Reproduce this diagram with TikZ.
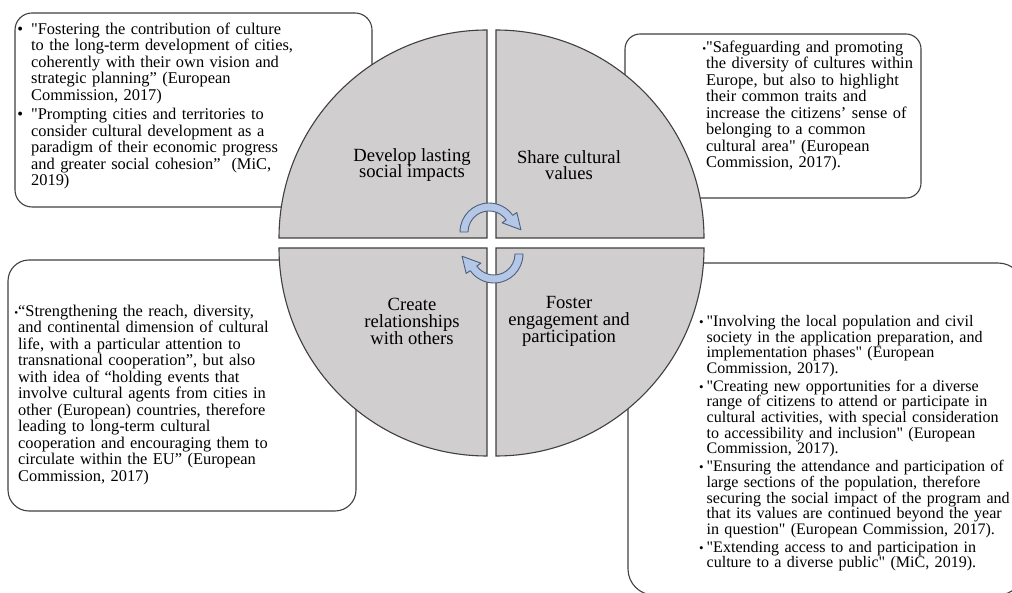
\documentclass[tikz,border=0pt]{standalone}
\usepackage{fontspec}
\setmainfont{Liberation Serif}[Ligatures=TeXOff]
\usepackage{tikz}

\definecolor{quadfill}{RGB}{208,206,206}
\definecolor{quadline}{RGB}{64,64,64}
\definecolor{arrowfill}{RGB}{180,199,231}
\definecolor{arrowline}{RGB}{78,95,125}

\newcommand{\notefont}{\fontsize{16.4pt}{16.5pt}\selectfont}
\newcommand{\densefont}{\fontsize{16.05pt}{15.6pt}\selectfont}
\newcommand{\quadfont}{\fontsize{18.6pt}{16.7pt}\selectfont\lineskiplimit=-20pt}
\newcommand{\bul}{\leavevmode\llap{\textbullet\hspace{8pt}}}
\newcommand{\smallbul}{\leavevmode\llap{\fontsize{13pt}{13pt}\selectfont\textbullet\hspace{3pt}}}
\newcommand{\tightbul}{\leavevmode\llap{\fontsize{11pt}{11pt}\selectfont\textbullet}}

\begin{document}
\begin{tikzpicture}[x=1pt,y=1pt,
    notebox/.style={draw=quadline,line width=1.1pt,fill=white,rounded corners=#1,inner sep=0pt},
    notebox/.default=16pt,
    notetext/.style={anchor=base west,inner sep=0pt,text width=420pt,align=left,font=\notefont},
    quadrant/.style={draw=quadline,line width=1.1pt,fill=quadfill},
    quadlabel/.style={inner sep=0pt,align=center,font=\quadfont},
    cyclearrow/.style={draw=arrowline,line width=0.9pt,fill=arrowfill,line join=round},
    circarrow/.pic={
        \filldraw[cyclearrow] (180:29pt) arc[start angle=180,end angle=35,radius=29pt]
            -- (35:34pt) -- (4:32pt) -- (35:16pt) -- (35:21pt)
            arc[start angle=35,end angle=180,radius=21pt] -- cycle;
    }]
    \useasboundingbox (0,0) rectangle (1012,592);
    \clip (0,0) rectangle (1012,592);

    % quote boxes, drawn first so the circle sits on top
    \node[notebox=17pt,minimum width=357,minimum height=194] (impactbox) at (193.5,482) {};
    \node[notebox=15pt,minimum width=296,minimum height=164] (valuesbox) at (773,476) {};
    \node[notebox=21pt,minimum width=348,minimum height=251] (relationbox) at (182,206.5) {};
    \node[notebox=26pt,minimum width=396,minimum height=332] (engagebox) at (826,163) {};

    \node[notetext] (impacttext) at ([xshift=16.5,yshift=-22]impactbox.north west)
        {\bul"Fostering the contribution of culture\\
         to the long-term development of cities,\\
         coherently with their own vision and\\
         strategic planning” (European\\
         Commission, 2017)\\[3pt]
         \bul"Prompting cities and territories to\\
         consider cultural development as a\\
         paradigm of their economic progress\\
         and greater social cohesion”\ \ (MiC,\\
         2019)};
    \node[notetext] (valuestext) at ([xshift=81.5,yshift=-19]valuesbox.north west)
        {\tightbul"Safeguarding and promoting\\
         the diversity of cultures within\\
         Europe, but also to highlight\\
         their common traits and\\
         increase the citizens’ sense of\\
         belonging to a common\\
         cultural area" (European\\
         Commission, 2017).};
    \node[notetext] (relationtext) at ([xshift=10.5,yshift=-57]relationbox.north west)
        {\tightbul“Strengthening the reach, diversity,\\
         and continental dimension of cultural\\
         life, with a particular attention to\\
         transnational cooperation”, but also\\
         with idea of “holding events that\\
         involve cultural agents from cities in\\
         other (European) countries, therefore\\
         leading to long-term cultural\\
         cooperation and encouraging them to\\
         circulate within the EU” (European\\
         Commission, 2017)};
    \node[notetext,font=\densefont] (engagetext) at ([xshift=79,yshift=-64]engagebox.north west)
        {\smallbul"Involving the local population and civil\\
         society in the application preparation, and\\
         implementation phases" (European\\
         Commission, 2017).\\[2.5pt]
         \smallbul"Creating new opportunities for a diverse\\
         range of citizens to attend or participate in\\
         cultural activities, with special consideration\\
         to accessibility and inclusion" (European\\
         Commission, 2017).\\[2.5pt]
         \smallbul"Ensuring the attendance and participation of\\
         large sections of the population, therefore\\
         securing the social impact of the program and\\
         that its values are continued beyond the year\\
         in question" (European Commission, 2017).\\[2.5pt]
         \smallbul"Extending access to and participation in\\
         culture to a diverse public" (MiC, 2019).};

    % the four quarters of the circle
    \coordinate (tl) at (487,354);
    \coordinate (tr) at (496,354);
    \coordinate (bl) at (487,344);
    \coordinate (br) at (496,344);
    \draw[quadrant] (tl) -- ++(-208,0) arc[start angle=180,end angle=90,radius=208pt] -- cycle;
    \draw[quadrant] (tr) -- ++(0,208) arc[start angle=90,end angle=0,radius=208pt] -- cycle;
    \draw[quadrant] (br) -- ++(208,0) arc[start angle=0,end angle=-90,radius=208pt] -- cycle;
    \draw[quadrant] (bl) -- ++(0,-208) arc[start angle=270,end angle=180,radius=208pt] -- cycle;

    \node[quadlabel] (impact) at (412,427) {Develop lasting\\social impacts};
    \node[quadlabel] (values) at (569,427) {Share cultural\\values};
    \node[quadlabel] (relation) at (412,270.5) {Create\\relationships\\with others};
    \node[quadlabel] (engage) at (569,270.5) {Foster\\engagement and\\participation};

    % turning arrows in the middle
    \pic at (489,360) {circarrow};
    \pic[rotate=180] at (494,338) {circarrow};
\end{tikzpicture}
\end{document}
